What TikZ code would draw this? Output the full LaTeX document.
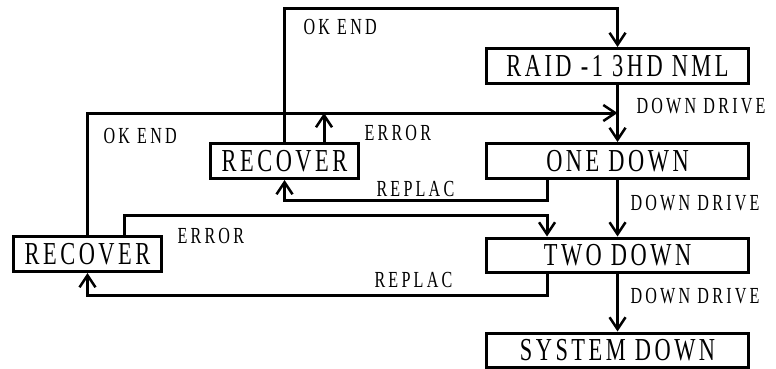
\documentclass[tikz,border=0pt]{standalone}
\usepackage{fontspec}
\usetikzlibrary{arrows.meta}
\newfontfamily\boxfont[FakeStretch=0.7,LetterSpace=11]{Liberation Serif}
\newfontfamily\labfont[FakeStretch=0.7,LetterSpace=14]{Liberation Serif}
\begin{document}
\begin{tikzpicture}[x=1pt,y=-1pt,line width=3pt,
  state/.style={draw,rectangle,inner sep=0pt,minimum width=262pt,minimum height=35pt,
    font=\boxfont\fontsize{32pt}{32pt}\selectfont},
  lab/.style={inner sep=0pt,anchor=base west,font=\labfont\fontsize{23pt}{23pt}\selectfont},
  arr/.style={-{Straight Barb[length=12pt,width=16pt,line width=2.5pt]}}]
\useasboundingbox (0,0) rectangle (776,369);
% boxes
\node[state] (raid) at (617.5,66) {RAID -1 3HD NML};
\node[state] (one) at (617.5,161) {ONE DOWN};
\node[state,minimum height=34pt] (two) at (617.5,255) {TWO DOWN};
\node[state,minimum height=34pt] (sys) at (617.5,350) {SYSTEM DOWN};
\node[state,minimum width=148pt] (rec1) at (284.5,161) {RECOVER};
\node[state,minimum width=148pt] (rec2) at (87.5,254) {RECOVER};
% helper coordinates
\coordinate (top) at (0,9);
\coordinate (yL) at (0,113);
\coordinate (yR1) at (0,200);
\coordinate (yE2) at (0,215);
\coordinate (yR2) at (0,295);
\coordinate (e1) at (324,0);
\coordinate (r1) at (547,0);
\coordinate (e2) at (124,0);
% connectors
\draw[arr] (rec1.north) -- (rec1.north |- top) -| (raid.north);
\draw[arr] (rec2.north) -- (rec2.north |- yL) -- (raid.south |- yL);
\draw[arr] (raid.south) -- (one.north);
\draw[arr] (rec1.north -| e1) -- (e1 |- yL);
\draw[arr] (one.south -| r1) -- (r1 |- yR1) -| (rec1.south);
\draw[arr] (one.south) -- (two.north);
\draw[arr] (rec2.north -| e2) -- (e2 |- yE2) -- (yE2 -| r1) -- (two.north -| r1);
\draw[arr] (two.south -| r1) -- (r1 |- yR2) -| (rec2.south);
\draw[arr] (two.south) -- (sys.north);
% labels
\node[lab] (l1) at (302,35) {OK END};
\node[lab] (l2) at (102,143) {OK END};
\node[lab] (l3) at (363,140) {ERROR};
\node[lab] (l4) at (375,196) {REPLAC};
\node[lab] (l5) at (176,243) {ERROR};
\node[lab] (l6) at (373,287) {REPLAC};
\node[lab] (l7) at (635,113) {DOWN DRIVE};
\node[lab] (l8) at (629,210) {DOWN DRIVE};
\node[lab] (l9) at (629,303) {DOWN DRIVE};
\end{tikzpicture}
\end{document}
